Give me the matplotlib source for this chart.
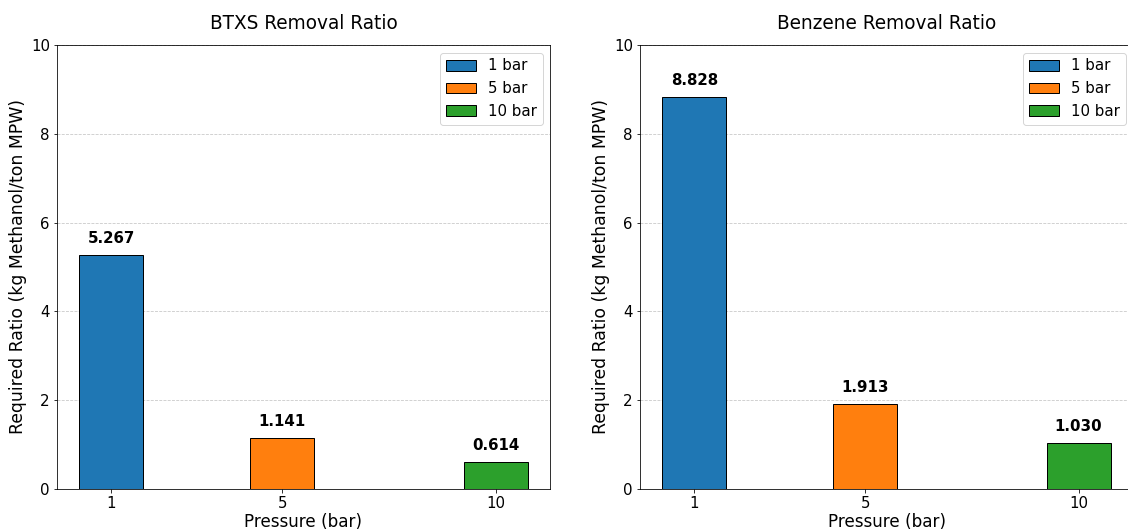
import matplotlib.pyplot as plt
import numpy as np

pressures = [1, 5, 10]
labels = ["1 bar", "5 bar", "10 bar"]
colors = ["#1f77b4", "#ff7f0e", "#2ca02c"]
btxs = [5.267, 1.141, 0.614]
benzene = [8.828, 1.913, 1.030]
titles = ["BTXS Removal Ratio", "Benzene Removal Ratio"]

W, H = 1128, 530
fig = plt.figure(figsize=(W / 72, H / 72), dpi=72)
ax1 = fig.add_axes([57 / W, 1 - 489 / H, 493 / W, 444 / H])
ax2 = fig.add_axes([640 / W, 1 - 489 / H, 493 / W, 444 / H])
for ax, vals, title in zip([ax1, ax2], [btxs, benzene], titles):
    for p, v, c, l in zip(pressures, vals, colors, labels):
        ax.bar(p, v, width=1.5, color=c, edgecolor="black", label=l, zorder=3)
        ax.text(p, v + 0.2, f"{v:.3f}", ha="center", va="bottom",
                fontsize=15, fontweight="bold")
    ax.set_ylim(0, 10)
    ax.set_xticks(pressures)
    ax.set_xlabel("Pressure (bar)", fontsize=16.8, labelpad=2)
    ax.set_ylabel("Required Ratio (kg Methanol/ton MPW)", fontsize=17.2)
    ax.set_title(title, fontsize=18.5, pad=16)
    ax.tick_params(labelsize=15)
    ax.grid(axis="y", linestyle="--", alpha=0.7, zorder=0)
    ax.legend(fontsize=15)
fig.savefig("out.png", dpi=72)
